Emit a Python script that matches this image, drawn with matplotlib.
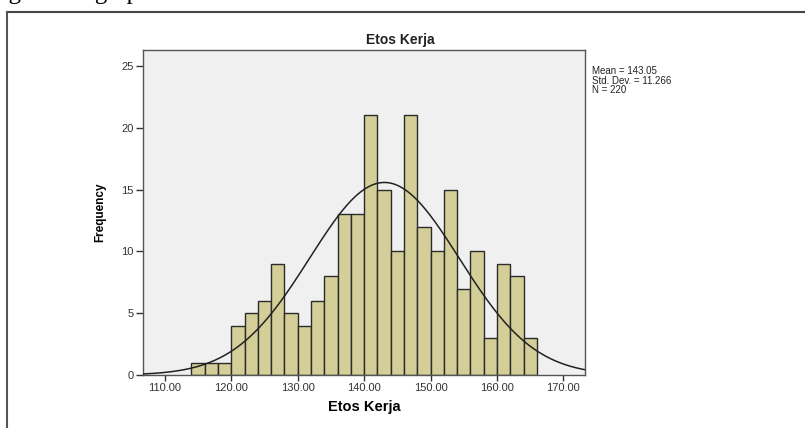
import numpy as np
import matplotlib
matplotlib.use("Agg")
import matplotlib.pyplot as plt
from matplotlib.lines import Line2D

# histogram of "Etos Kerja" scores, SPSS style
bin_starts = np.arange(114, 166, 2)
counts = [1, 1, 1, 4, 5, 6, 9, 5, 4, 6, 8, 13, 13,
          21, 15, 10, 21, 12, 10, 15, 7, 10, 3, 9, 8, 3]
bin_width = 2
mean = 143.05
std_dev = 11.266
n = 220
x_ticks = [110, 120, 130, 140, 150, 160, 170]
y_ticks = [0, 5, 10, 15, 20, 25]

plt.rcParams['font.family'] = ['Liberation Sans', 'DejaVu Sans']

fig = plt.figure(figsize=(8.05, 4.28), dpi=100)
ax = fig.add_axes([0.178, 0.1238, 0.5487, 0.7594])
ax.set_facecolor('#f0f0f0')

ax.bar(bin_starts, counts, width=bin_width, align='edge',
       color='#d4cf98', edgecolor='#2b2b2b', linewidth=1.0, zorder=2)

# fitted normal curve
xs = np.linspace(106.74, 173.26, 400)
ys = n * bin_width / (std_dev * np.sqrt(2 * np.pi)) * np.exp(-0.5 * ((xs - mean) / std_dev) ** 2)
ax.plot(xs, ys, color='#222222', linewidth=1.1, zorder=3)

ax.set_xlim(106.74, 173.26)
ax.set_ylim(0, 26.3)
ax.set_xticks(x_ticks)
ax.set_xticklabels(['%.2f' % t for t in x_ticks])
ax.set_yticks(y_ticks)
ax.tick_params(axis='both', labelsize=8, colors='#333333', length=4, width=1.0, pad=2)
ax.tick_params(axis='y', length=5)
for s in ax.spines.values():
    s.set_color('#555555')
    s.set_linewidth(1.0)

ax.set_xlabel('Etos Kerja', fontsize=10.5, fontweight='bold', labelpad=5)
ax.set_ylabel('Frequency', fontsize=8.5, fontweight='bold', labelpad=11)
fig.text(400 / 805, 1 - 40 / 428, 'Etos Kerja', ha='center', va='center',
         fontsize=10, fontweight='bold', color='#222222')

fig.text(592 / 805, 1 - 66 / 428,
         'Mean = %.2f\nStd. Dev. = %.3f\nN = %d' % (mean, std_dev, n),
         ha='left', va='top', fontsize=7, linespacing=0.95, color='#222222')

# frame of the pasted picture
fig.add_artist(Line2D([7 / 805, 1.0], [1 - 12 / 428, 1 - 12 / 428],
                      transform=fig.transFigure, color='#444444', linewidth=1.5))
fig.add_artist(Line2D([7 / 805, 7 / 805], [0.0, 1 - 12 / 428],
                      transform=fig.transFigure, color='#555555', linewidth=1.5))

# clipped line of document text above the picture
fig.text(-11 / 805, 1 + 1 / 428, 'ing below graph', ha='left', va='baseline',
         fontsize=18, family='Liberation Serif', color='black')

fig.savefig('out.png', dpi=100)
